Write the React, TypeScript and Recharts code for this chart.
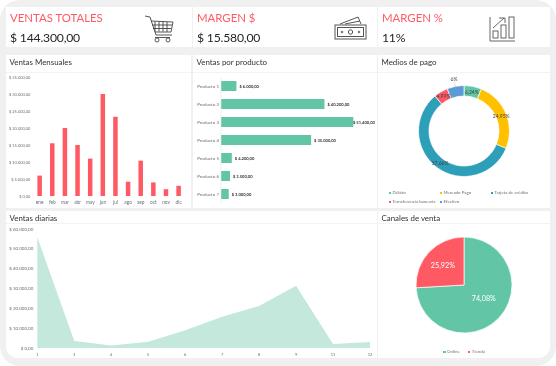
import React from "react";
import { BarChart, Bar, XAxis, YAxis, AreaChart, Area, PieChart, Pie, Cell, Legend, LabelList } from "recharts";

const FONT = "Lato, sans-serif";
const RED = "#ff5a64";
const GREEN = "#62c6a6";
const GREY = "#6f6f6f";

const kpiTitles = ["VENTAS TOTALES", "MARGEN $", "MARGEN %"];
const kpiValues = ["$ 144.300,00", "$ 15.580,00", "11%"];

const months = ["ene", "feb", "mar", "abr", "may", "jun", "jul", "ago", "sep", "oct", "nov", "dic"];
const monthSales = [6000, 15500, 20000, 15000, 11000, 30000, 23300, 4200, 10400, 4000, 2000, 3000];
const monthTicks = [0, 5000, 10000, 15000, 20000, 25000, 30000, 35000];

const products = ["Producto 1", "Producto 2", "Producto 3", "Producto 4", "Producto 5", "Producto 6", "Producto 7"];
const productSales = [6000, 40200, 51400, 35000, 4200, 3500, 3000];

const payNames = ["Débito", "Mercado Pago", "Tarjeta de crédito", "Transferencia bancaria", "Efectivo"];
const payShares = [6.24, 24.95, 57.66, 4.99, 6];
const payColors = ["#62c6a6", "#ffc000", "#2e9fb8", "#ff5a64", "#5b9bd5"];

const days = ["1", "3", "4", "5", "6", "7", "8", "9", "11", "12"];
const daySales = [55800, 3500, 1200, 3200, 8900, 15800, 21200, 31400, 2000, 3000];
const dayTicks = [0, 10000, 20000, 30000, 40000, 50000, 60000];

const channelNames = ["Online", "Tienda"];
const channelShares = [74.08, 25.92];
const channelColors = [GREEN, RED];

const monthData = months.map((m, i) => ({ m, v: monthSales[i] }));
const productData = products.map((p, i) => ({ p, v: productSales[i] }));
const payData = payNames.map((name, i) => ({ name, v: payShares[i] }));
const dayData = days.map((d, i) => ({ d, v: daySales[i] }));
const channelData = channelNames.map((name, i) => ({ name, v: channelShares[i] }));

const money = (v: number) =>
  "$ " + v.toLocaleString("de-DE", { minimumFractionDigits: 2, maximumFractionDigits: 2 });
const pct = (v: number) => (Number.isInteger(v) ? `${v}%` : `${v.toFixed(2).replace(".", ",")}%`);

const RAD = Math.PI / 180;

function Card({ x, y, w, h, title, radius }: any) {
  return (
    <div
      style={{
        position: "absolute", left: x, top: y, width: w, height: h, background: "#fff",
        borderRadius: radius || 0,
      }}
    >
      {title && (
        <>
          <div style={{ position: "absolute", left: 3.5, top: title.top, fontSize: 7.9, color: "#333", lineHeight: "10px", whiteSpace: "nowrap" }}>
            {title.text}
          </div>
          <div style={{ position: "absolute", left: 0, right: 0, top: title.line, height: 1, background: "#f3f3f3" }} />
        </>
      )}
    </div>
  );
}

function Kpi({ x, i }: { x: number; i: number }) {
  return (
    <>
      <div style={{ position: "absolute", left: x, top: 10, fontSize: 11.4, lineHeight: "15px", color: RED, whiteSpace: "nowrap" }}>{kpiTitles[i]}</div>
      <div style={{ position: "absolute", left: x, top: 29, fontSize: 12.2, letterSpacing: -0.2, lineHeight: "17px", color: "#262626", whiteSpace: "nowrap" }}>{kpiValues[i]}</div>
    </>
  );
}

function Icons() {
  const s = { fill: "none", stroke: "#444", strokeWidth: 0.9 };
  return (
    <svg width={556} height={60} style={{ position: "absolute", left: 0, top: 0 }}>
      <g {...s}>
        <path d="M145 16 L150 17 L156 35 L172 35" />
        <path d="M151 21 L173 22 L171 32 L155 32" />
        <path d="M155 21.5v10M159 21.5v10M163 21.5v10M167 22v10M152 25h20M153 28.500h18" />
        <circle cx={157} cy={40} r={2} />
        <circle cx={168} cy={40} r={2} />
        <path d="M155 37.500h15" />
      </g>
      <g fill="none" stroke="#555" strokeWidth={1}>
        <rect x={335} y={25} width={31} height={14} />
        <rect x={337.500} y={27.500} width={26} height={9} />
        <circle cx={350.500} cy={32} r={2.200} />
        <circle cx={342} cy={32} r={0.800} />
        <circle cx={359} cy={32} r={0.800} />
        <path d="M340 24 L358 17 L361 24M345 24 L360 21" />
      </g>
      <g fill="none" stroke="#555" strokeWidth={0.9}>
        <path d="M490 17 V41 H515" />
        <rect x={493} y={31} width={5} height={7} />
        <rect x={501} y={25} width={5} height={13} />
        <rect x={509} y={17} width={5} height={21} />
        <path d="M493 28 L504 18M499 18 H505 V23" />
      </g>
    </svg>
  );
}

function makeTick(size: number, anchor: "end" | "middle", fmt?: (v: any) => string, dy = 0) {
  return (p: any) => (
    <text x={p.x} y={p.y + dy} textAnchor={anchor} dominantBaseline="central" fontSize={size} fill={GREY} fontFamily={FONT}>
      {fmt ? fmt(p.payload.value) : p.payload.value}
    </text>
  );
}

function productValueLabel(p: any) {
  return (
    <text x={Math.min(p.x + p.width + 3, 160)} y={p.y + p.height / 2} dominantBaseline="central" fontSize={4.1} fontWeight={700} fill="#333" fontFamily={FONT}>
      {money(p.value)}
    </text>
  );
}

function payLabel(p: any) {
  const { cx, cy, midAngle, innerRadius, outerRadius, value } = p;
  const outside = value === 6;
  const r = outside ? outerRadius + 7.500 : (innerRadius + outerRadius) / 2;
  const x = cx + r * Math.cos(-midAngle * RAD);
  const y = cy + r * Math.sin(-midAngle * RAD);
  const x2 = cx + (outerRadius - 3) * Math.cos(-midAngle * RAD);
  const y2 = cy + (outerRadius - 3) * Math.sin(-midAngle * RAD);
  return (
    <g>
      {outside && <line x1={x} y1={y + 2} x2={x2} y2={y2} stroke="#b5b5b5" strokeWidth={0.4} />}
      <text x={x} y={y} textAnchor="middle" dominantBaseline="central" fontSize={5} fill="#404040" fontFamily={FONT}>
        {pct(value)}
      </text>
    </g>
  );
}

const channelNudge = [{ r: 24, a: 9 }, { r: 29, a: 0 }];
function channelLabel(p: any) {
  const { cx, cy, midAngle, value, index } = p;
  const n = channelNudge[index];
  const a = midAngle + n.a;
  return (
    <text x={cx + n.r * Math.cos(-a * RAD)} y={cy + n.r * Math.sin(-a * RAD)} textAnchor="middle" dominantBaseline="central" fontSize={7.2} fill="#fff" fontFamily={FONT}>
      {pct(value)}
    </text>
  );
}

const legendMark = (color: string) => (
  <span style={{ display: "inline-block", width: 2.500, height: 2.500, background: color, marginRight: 1.500, verticalAlign: "middle" }} />
);

function payLegend({ payload }: any) {
  return (
    <div style={{ display: "grid", gridTemplateColumns: "51px 51px 60px", rowGap: 2, fontSize: 4.4, lineHeight: "7px", color: GREY, fontFamily: FONT, whiteSpace: "nowrap" }}>
      {(payload || []).map((e: any) => (
        <div key={e.value}>{legendMark(e.color)}{e.value}</div>
      ))}
    </div>
  );
}

function channelLegend({ payload }: any) {
  return (
    <div style={{ display: "flex", justifyContent: "center", gap: 8, fontSize: 4.4, lineHeight: "7px", color: GREY, fontFamily: FONT }}>
      {(payload || []).map((e: any) => (
        <div key={e.value}>{legendMark(e.color)}{e.value}</div>
      ))}
    </div>
  );
}

const NOMARGIN = { top: 0, right: 0, bottom: 0, left: 0 };

export default function App() {
  return (
    <div style={{ position: "absolute", left: 0, top: 0, width: 556, height: 366, background: "#fff", overflow: "hidden", fontFamily: FONT, filter: "blur(0.3px)" }}>
      <div style={{ position: "absolute", inset: 0, background: "#f0f0f0", borderRadius: 20 }} />

      <Card x={6} y={7} w={186} h={40} />
      <Card x={193} y={7} w={184} h={40} />
      <Card x={378} y={7} w={172} h={40} />
      <Kpi x={10} i={0} />
      <Kpi x={197} i={1} />
      <Kpi x={382} i={2} />
      <Icons />

      <Card x={6} y={55} w={185} h={153} title={{ text: "Ventas Mensuales", top: 2, line: 17 }} />
      <Card x={193} y={55} w={184} h={153} title={{ text: "Ventas por producto", top: 2, line: 17 }} />
      <Card x={378} y={55} w={172} h={153} title={{ text: "Medios de pago", top: 2, line: 17 }} />
      <Card x={6} y={211} w={371} h={147} radius="0 0 0 12px" title={{ text: "Ventas diarias", top: 2, line: 12 }} />
      <Card x={378} y={211} w={172} h={147} radius="0 0 12px 0" title={{ text: "Canales de venta", top: 2, line: 12 }} />

      <div style={{ position: "absolute", left: 6, top: 72 }}>
        <BarChart width={185} height={136} data={monthData} margin={{ top: 5, right: 6, bottom: 0, left: 0 }}>
          <XAxis dataKey="m" height={12} axisLine={false} tickLine={false} tickSize={0} tick={makeTick(4.8, "middle", undefined, 5)} interval={0} tickMargin={1} />
          <YAxis width={27.4} domain={[0, 35000]} ticks={monthTicks} interval={0} axisLine={false} tickLine={false} tickSize={0} tick={makeTick(4, "end", money)} tickMargin={3} />
          <Bar dataKey="v" fill={RED} barSize={4.500} isAnimationActive={false} />
        </BarChart>
      </div>

      <div style={{ position: "absolute", left: 193, top: 72 }}>
        <BarChart layout="vertical" width={184} height={136} data={productData} margin={{ top: 5, right: 17, bottom: 5, left: 0 }}>
          <XAxis type="number" hide domain={[0, 54000]} />
          <YAxis type="category" dataKey="p" width={28} axisLine={{ stroke: "#e6e6e6", strokeWidth: 0.6 }} tickLine={false} tickSize={0} tick={makeTick(4.5, "end")} interval={0} tickMargin={2} />
          <Bar dataKey="v" fill={GREEN} barSize={10} isAnimationActive={false}>
            <LabelList dataKey="v" content={productValueLabel} />
          </Bar>
        </BarChart>
      </div>

      <div style={{ position: "absolute", left: 378, top: 72 }}>
        <PieChart width={172} height={136} margin={NOMARGIN}>
          <Pie data={payData} dataKey="v" nameKey="name" cx={86} cy={59} innerRadius={35} outerRadius={45.500} startAngle={90} endAngle={-270} stroke="#fff" strokeWidth={0.7} label={payLabel} labelLine={false} isAnimationActive={false}>
            {payData.map((d, i) => <Cell key={d.name} fill={payColors[i]} />)}
          </Pie>
          <Legend content={payLegend} itemSorter={null} wrapperStyle={{ left: 10.500, top: 117, bottom: "auto", width: 162 }} />
        </PieChart>
      </div>

      <div style={{ position: "absolute", left: 6, top: 223 }}>
        <AreaChart width={371} height={135} data={dayData} margin={{ top: 6, right: 7, bottom: 0, left: 0 }}>
          <XAxis dataKey="d" height={10} axisLine={false} tickLine={false} tickSize={0} tick={makeTick(4, "middle", undefined, 5)} interval={0} tickMargin={1} />
          <YAxis width={31.3} domain={[0, 60000]} ticks={dayTicks} interval={0} axisLine={false} tickLine={false} tickSize={0} tick={makeTick(4.5, "end", money)} tickMargin={4} />
          <Area type="linear" dataKey="v" stroke="none" fill="#c4e8dc" fillOpacity={1} isAnimationActive={false} />
        </AreaChart>
      </div>

      <div style={{ position: "absolute", left: 378, top: 223 }}>
        <PieChart width={172} height={135} margin={NOMARGIN}>
          <Pie data={channelData} dataKey="v" nameKey="name" cx={86} cy={62} innerRadius={0} outerRadius={48} startAngle={90} endAngle={-270} stroke="#fff" strokeWidth={0.7} label={channelLabel} labelLine={false} isAnimationActive={false}>
            {channelData.map((d, i) => <Cell key={d.name} fill={channelColors[i]} />)}
          </Pie>
          <Legend content={channelLegend} itemSorter={null} wrapperStyle={{ left: 0, top: 125, bottom: "auto", width: 172 }} />
        </PieChart>
      </div>
    </div>
  );
}
